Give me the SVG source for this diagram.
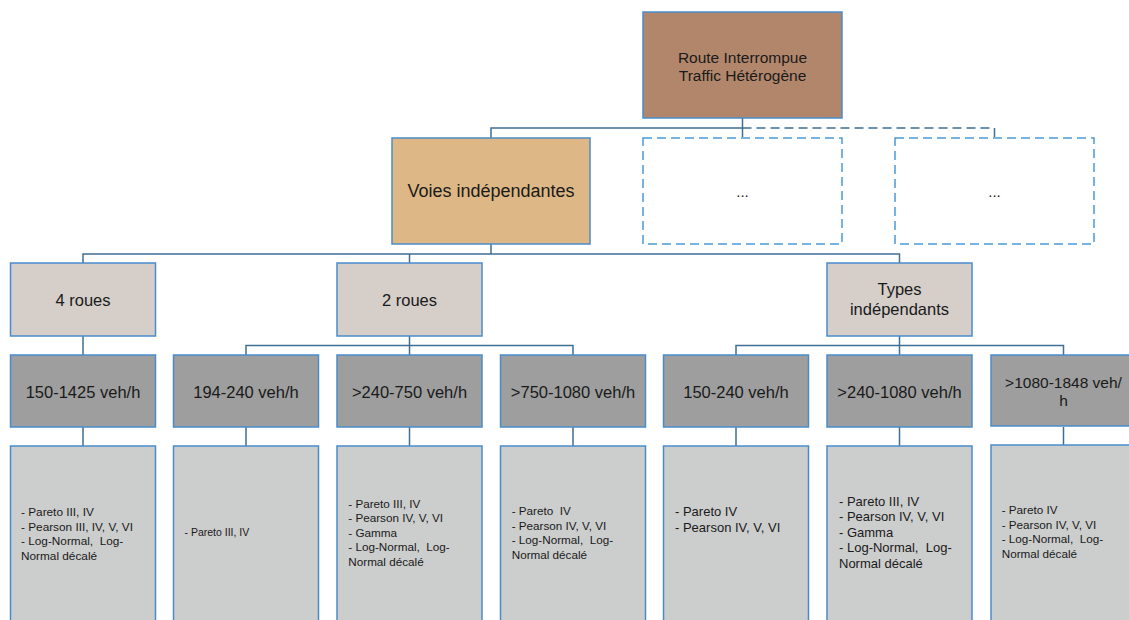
<svg xmlns="http://www.w3.org/2000/svg" width="1129" height="620" viewBox="0 0 1129 620">
<style>
text{font-family:"Liberation Sans",Arial,sans-serif;fill:#1a1a1a;white-space:pre}
.c{text-anchor:middle}
.box{stroke:#4a8ccb;stroke-width:1.5}
.root{fill:#b2866a}
.voies{fill:#ddb886}
.dash{fill:#ffffff;stroke:#4a9bd8;stroke-width:1.5;stroke-dasharray:9 5}
.cat{fill:#d5cec9}
.rng{fill:#9d9e9d}
.lst{fill:#cccdcd}
.ln{stroke:#3f6f92;stroke-width:1.5;fill:none}
.lnd{stroke:#3f6f92;stroke-width:1.5;fill:none;stroke-dasharray:9 5}
</style>
<rect width="1129" height="620" fill="#ffffff"/>
<g id="connectors">
<path class="ln" d="M742.5 118V128H491V138"/>
<path class="lnd" d="M742.5 128H994.5V138"/>
<path class="lnd" d="M742.5 128V138"/>
<path class="ln" d="M491 244V254M83 263V254H899.5V263M409.5 254V263"/>
<path class="ln" d="M83 336V355"/>
<path class="ln" d="M409.5 336V355M246 355V345.5H573V355"/>
<path class="ln" d="M899.5 336V355M736 355V345.5H1063.5V355"/>
<path class="ln" d="M83 427V446M246 427V446M409.5 427V446M573 427V446M736 427V446M899.5 427V446M1063.5 427V445"/>
</g>
<g id="root"><rect class="box root" x="643" y="12" width="199" height="106"/>
<text class="c" x="742.5" y="63" font-size="15.5">Route Interrompue</text>
<text class="c" x="742.5" y="81" font-size="15.5">Traffic Hétérogène</text></g>
<g id="voies"><rect class="box voies" x="392" y="138" width="198" height="106"/>
<text class="c" x="491" y="197" font-size="18">Voies indépendantes</text></g>
<g id="other1"><rect class="dash" x="643" y="138" width="199" height="106"/>
<text class="c" x="742.5" y="197" font-size="15">...</text></g>
<g id="other2"><rect class="dash" x="895" y="138" width="199" height="106"/>
<text class="c" x="994.5" y="197" font-size="15">...</text></g>
<g id="roues4"><rect class="box cat" x="10.5" y="263" width="145" height="73"/>
<text class="c" x="83" y="306" font-size="16.5">4 roues</text></g>
<g id="roues2"><rect class="box cat" x="337" y="263" width="145" height="73"/>
<text class="c" x="409.5" y="306" font-size="16.5">2 roues</text></g>
<g id="types"><rect class="box cat" x="827" y="263" width="145" height="73"/>
<text class="c" x="899.5" y="295" font-size="16.5">Types</text>
<text class="c" x="899.5" y="315" font-size="16.5">indépendants</text></g>
<g id="r1"><rect class="box rng" x="10.5" y="355" width="145" height="72"/>
<text class="c" x="83" y="397.5" font-size="16.5">150-1425 veh/h</text></g>
<g id="r2"><rect class="box rng" x="173.5" y="355" width="145" height="72"/>
<text class="c" x="246" y="397.5" font-size="16.5">194-240 veh/h</text></g>
<g id="r3"><rect class="box rng" x="337" y="355" width="145" height="72"/>
<text class="c" x="409.5" y="397.5" font-size="16.5">&gt;240-750 veh/h</text></g>
<g id="r4"><rect class="box rng" x="500.5" y="355" width="145" height="72"/>
<text class="c" x="573" y="397.5" font-size="16.5">&gt;750-1080 veh/h</text></g>
<g id="r5"><rect class="box rng" x="663.5" y="355" width="145" height="72"/>
<text class="c" x="736" y="397.5" font-size="16.5">150-240 veh/h</text></g>
<g id="r6"><rect class="box rng" x="827" y="355" width="145" height="72"/>
<text class="c" x="899.5" y="397.5" font-size="16.5">&gt;240-1080 veh/h</text></g>
<g id="r7"><rect class="box rng" x="991" y="355" width="145" height="71"/>
<text class="c" x="1063.5" y="388" font-size="15.5">&gt;1080-1848 veh/</text>
<text class="c" x="1063.5" y="405.5" font-size="15.5">h</text></g>
<g id="d1"><rect class="box lst" x="10.5" y="446" width="145" height="180"/>
<text x="21" font-size="11.8"><tspan x="21" y="516">- Pareto III, IV</tspan><tspan x="21" y="530.5">- Pearson III, IV, V, VI</tspan><tspan x="21" y="545">- Log-Normal,  Log-</tspan><tspan x="21" y="559.5">Normal décalé</tspan></text></g>
<g id="d2"><rect class="box lst" x="173.5" y="446" width="145" height="180"/>
<text x="184.5" y="535.5" font-size="10.5">- Pareto III, IV</text></g>
<g id="d3"><rect class="box lst" x="337" y="446" width="145" height="180"/>
<text font-size="11.7"><tspan x="348.3" y="507.5">- Pareto III, IV</tspan><tspan x="348.3" y="522">- Pearson IV, V, VI</tspan><tspan x="348.3" y="536.5">- Gamma</tspan><tspan x="348.3" y="551">- Log-Normal,  Log-</tspan><tspan x="348.3" y="565.5">Normal décalé</tspan></text></g>
<g id="d4"><rect class="box lst" x="500.5" y="446" width="145" height="180"/>
<text font-size="11.7"><tspan x="511.7" y="515">- Pareto  IV</tspan><tspan x="511.7" y="529.5">- Pearson IV, V, VI</tspan><tspan x="511.7" y="544">- Log-Normal,  Log-</tspan><tspan x="511.7" y="558.5">Normal décalé</tspan></text></g>
<g id="d5"><rect class="box lst" x="663.5" y="446" width="145" height="180"/>
<text font-size="13"><tspan x="675" y="516.3">- Pareto IV</tspan><tspan x="675" y="532">- Pearson IV, V, VI</tspan></text></g>
<g id="d6"><rect class="box lst" x="827" y="446" width="145" height="180"/>
<text font-size="13"><tspan x="839" y="505.5">- Pareto III, IV</tspan><tspan x="839" y="521.2">- Pearson IV, V, VI</tspan><tspan x="839" y="536.8">- Gamma</tspan><tspan x="839" y="552.4">- Log-Normal,  Log-</tspan><tspan x="839" y="568">Normal décalé</tspan></text></g>
<g id="d7"><rect class="box lst" x="991" y="445" width="145" height="181"/>
<text font-size="11.7"><tspan x="1001.7" y="514">- Pareto IV</tspan><tspan x="1001.7" y="528.5">- Pearson IV, V, VI</tspan><tspan x="1001.7" y="543">- Log-Normal,  Log-</tspan><tspan x="1001.7" y="557.5">Normal décalé</tspan></text></g>
</svg>
